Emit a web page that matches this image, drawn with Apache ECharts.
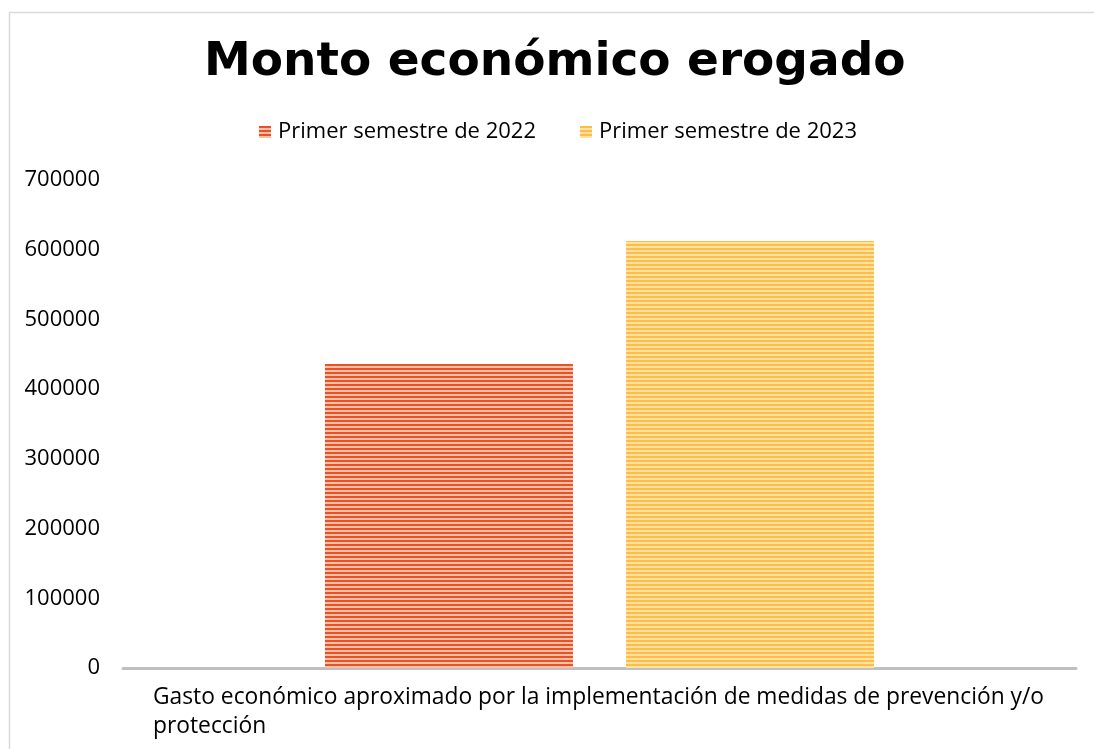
<!DOCTYPE html>
<html>
<head>
<meta charset="utf-8">
<script src="https://cdn.jsdelivr.net/npm/echarts@6/dist/echarts.min.js"></script>
<style>
  html, body { margin: 0; padding: 0; background: #fff; }
  #chart { width: 1094px; height: 749px; }
</style>
</head>
<body>
<div id="chart"></div>
<script>
// data
const categories = ['Gasto económico aproximado por la implementación de medidas de prevención y/o protección'];
const seriesNames = ['Primer semestre de 2022', 'Primer semestre de 2023'];
const values2022 = [436000];
const values2023 = [612500];
const yTicks = [0, 100000, 200000, 300000, 400000, 500000, 600000, 700000];

// striped fill like the excel pattern
function stripes(dark, light) {
  const c = document.createElement('canvas');
  c.width = 4; c.height = 4;
  const ctx = c.getContext('2d');
  ctx.fillStyle = light; ctx.fillRect(0, 0, 4, 4);
  ctx.fillStyle = dark; ctx.fillRect(0, 0, 4, 2);
  return { image: c, repeat: 'repeat' };
}
const redFill = stripes('#EA5124', '#F8BFA9');
const yellowFill = stripes('#FFBD45', '#FFE2A4');

const font = 'Open Sans';
const chart = echarts.init(document.getElementById('chart'), null, { renderer: 'canvas' });

chart.setOption({
  animation: false,
  title: {
    text: 'Monto económico erogado',
    left: 199,
    top: 34,
    textStyle: { fontFamily: 'DejaVu Sans', fontWeight: 'bold', fontSize: 47, color: '#000' }
  },
  legend: {
    top: 116,
    left: 254,
    itemWidth: 12,
    itemHeight: 12,
    itemGap: 44,
    icon: 'rect',
    textStyle: { fontFamily: font, fontSize: 22, color: '#000', padding: [0, 0, 0, 2] },
    data: seriesNames
  },
  graphic: [{
    type: 'rect',
    left: 7, top: 10,
    shape: { width: 1200, height: 900 },
    style: { fill: 'none', stroke: '#d9d9d9', lineWidth: 1.5 },
    silent: true
  }],
  grid: { left: 123, right: 18, top: 180, bottom: 81, containLabel: false },
  xAxis: {
    type: 'category',
    data: categories,
    axisLine: { lineStyle: { color: '#bfbfbf', width: 3 } },
    axisTick: { show: false },
    axisLabel: {
      margin: 15,
      formatter: v => {
        const i = v.lastIndexOf(' ');
        return '{a|' + v.slice(0, i) + '}\n{a|' + v.slice(i + 1) + '}';
      },
      rich: {
        a: { width: 893, align: 'left', fontFamily: font, fontSize: 22.8, lineHeight: 29, color: '#000' }
      }
    }
  },
  yAxis: {
    type: 'value',
    min: yTicks[0],
    max: yTicks[yTicks.length - 1],
    interval: yTicks[1] - yTicks[0],
    splitLine: { show: false },
    axisLine: { show: false },
    axisTick: { show: false },
    axisLabel: { margin: 23, fontFamily: font, fontSize: 22, color: '#000', formatter: v => String(v) }
  },
  series: [
    {
      name: seriesNames[0],
      type: 'bar',
      data: values2022,
      barWidth: 248,
      barGap: '21.4%',
      itemStyle: { color: redFill }
    },
    {
      name: seriesNames[1],
      type: 'bar',
      data: values2023,
      barWidth: 248,
      itemStyle: { color: yellowFill }
    }
  ]
});
</script>
</body>
</html>
